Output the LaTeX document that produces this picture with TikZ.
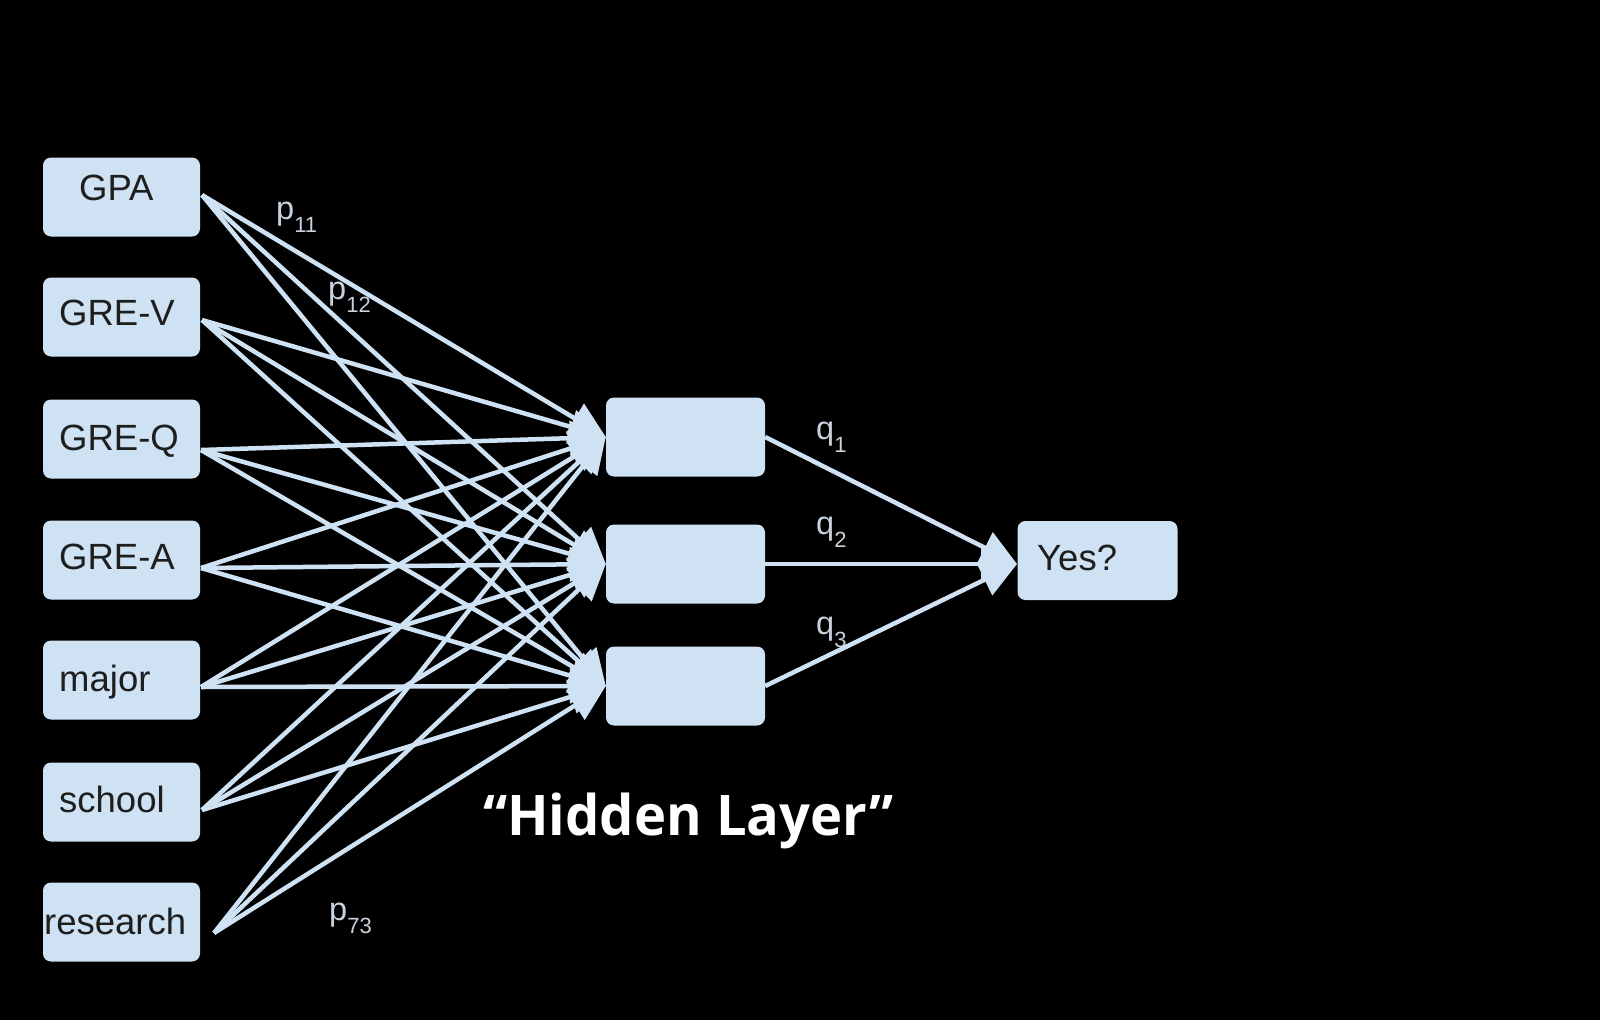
\documentclass[tikz,border=0pt]{standalone}
\usepackage{fontspec}
\setmainfont{Liberation Sans}
\newfontfamily\hlfont[FakeStretch=0.97]{Open Sans}
\usetikzlibrary{arrows.meta}
\definecolor{bx}{HTML}{CFE2F3}
\definecolor{lblc}{HTML}{C8D2DC}
\definecolor{ink}{HTML}{1E1E1E}
\tikzset{
  box/.style={fill=bx, rounded corners=8pt, minimum width=157pt, minimum height=79pt, inner sep=0pt, draw=none},
  hbox/.style={box, minimum width=159pt},
  btext/.style={anchor=base west, inner sep=0pt, text=ink, font=\fontsize{36.5}{36.5}\selectfont},
  wlab/.style={anchor=base west, inner sep=0pt, text=lblc, font=\fontsize{32.5}{32.5}\selectfont},
  conn/.style={draw=bx, line width=4.5pt, -{Triangle[length=36pt,width=34pt]}},
}
\newcommand{\wsub}[2]{#1\raisebox{-13pt}{\fontsize{22}{22}\selectfont #2}}
\begin{document}
\begin{tikzpicture}[x=1pt,y=-1pt]
\fill[black] (0,0) rectangle (1600,1020);
\useasboundingbox (0,0) rectangle (1600,1020);
% input boxes
\node[box] (i1) at (121.5,197) {};
\node[box] (i2) at (121.5,317) {};
\node[box] (i3) at (121.5,439) {};
\node[box] (i4) at (121.5,560) {};
\node[box] (i5) at (121.5,680) {};
\node[box] (i6) at (121.5,802) {};
\node[box] (i7) at (121.5,922) {};
\node[btext] (t1) at (79,200) {GPA};
\node[btext] (t2) at (59,325) {GRE-V};
\node[btext] (t3) at (59,450) {GRE-Q};
\node[btext] (t4) at (59,569) {GRE-A};
\node[btext] (t5) at (59,691) {major};
\node[btext] (t6) at (59,812) {school};
\node[btext] (t7) at (44,934) {research};
% hidden boxes
\node[hbox] (h1) at (685.5,437) {};
\node[hbox] (h2) at (685.5,564) {};
\node[hbox] (h3) at (685.5,686) {};
% output
\node[box, minimum width=160pt] (y) at (1097.5,560.5) {};
\node[btext] (ty) at (1037,570) {Yes?};
% start points
\coordinate (s1) at (202,195);
\coordinate (s2) at (202,320);
\coordinate (s3) at (201,450);
\coordinate (s4) at (201,568);
\coordinate (s5) at (201,687);
\coordinate (s6) at (202,810);
\coordinate (s7) at (214,933);
\coordinate (yt) at (1017,564);
\foreach \s in {s1,s2,s3,s4,s5,s6,s7}{
  \foreach \h in {h1,h2,h3}{
    \draw[conn] (\s) -- (\h.west);
  }
}
\foreach \h in {h1,h2,h3}{
  \draw[conn] (\h.east) -- (yt);
}
% weight labels
\node[wlab] (p11) at (276,219) {\wsub{p}{11}};
\node[wlab] (p12) at (328,299) {\wsub{p}{12}};
\node[wlab] (p73) at (329,920) {\wsub{p}{73}};
\node[wlab] (q1) at (816,439) {\wsub{q}{1}};
\node[wlab] (q2) at (816,534) {\wsub{q}{2}};
\node[wlab] (q3) at (816,634) {\wsub{q}{3}};
% caption
\node[anchor=base west, inner sep=0pt, text=white, font=\hlfont\bfseries\fontsize{56}{56}\selectfont] (hl) at (483,835) {“Hidden Layer”};
\end{tikzpicture}
\end{document}
